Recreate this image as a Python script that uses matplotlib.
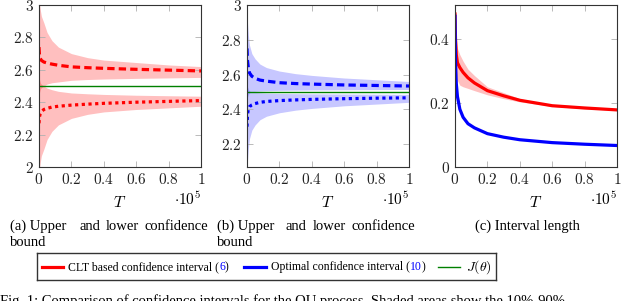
import numpy as np
import matplotlib
matplotlib.use("Agg")
import matplotlib.pyplot as plt
from matplotlib.ticker import FuncFormatter, MultipleLocator

plt.rcParams['mathtext.fontset'] = 'cm'
plt.rcParams['font.family'] = ['Liberation Serif', 'DejaVu Serif']

# time grid (T)
T = [0, 300, 800, 1500, 3000, 5000, 8000, 12000, 20000, 30000, 40000, 60000, 80000, 100000]

# (a) CLT based bounds and their shaded spread
a_upper = [2.74, 2.69, 2.67, 2.658, 2.648, 2.642, 2.635, 2.628, 2.618, 2.613, 2.609, 2.603, 2.598, 2.593]
a_lower = [2.27, 2.31, 2.33, 2.342, 2.355, 2.362, 2.37, 2.375, 2.382, 2.388, 2.393, 2.40, 2.405, 2.41]
a_up_hi = [3.05, 3.01, 2.97, 2.93, 2.89, 2.83, 2.78, 2.74, 2.70, 2.675, 2.66, 2.645, 2.63, 2.62]
a_up_lo = [2.44, 2.46, 2.48, 2.49, 2.50, 2.512, 2.52, 2.525, 2.535, 2.54, 2.543, 2.547, 2.55, 2.553]
a_lo_hi = [2.56, 2.54, 2.52, 2.51, 2.50, 2.487, 2.477, 2.467, 2.457, 2.452, 2.448, 2.443, 2.44, 2.437]
a_lo_lo = [1.95, 1.99, 2.03, 2.07, 2.11, 2.17, 2.22, 2.26, 2.30, 2.325, 2.34, 2.355, 2.365, 2.375]

# (b) optimal bounds and their shaded spread
b_upper = [2.75, 2.68, 2.64, 2.61, 2.59, 2.578, 2.568, 2.562, 2.553, 2.548, 2.545, 2.54, 2.537, 2.534]
b_lower = [2.30, 2.37, 2.40, 2.415, 2.425, 2.433, 2.44, 2.445, 2.45, 2.454, 2.457, 2.461, 2.464, 2.466]
b_up_hi = [3.05, 2.90, 2.83, 2.77, 2.72, 2.69, 2.66, 2.64, 2.62, 2.605, 2.595, 2.58, 2.57, 2.56]
b_up_lo = [2.45, 2.47, 2.485, 2.495, 2.50, 2.503, 2.505, 2.507, 2.509, 2.51, 2.511, 2.512, 2.513, 2.514]
b_lo_hi = [2.55, 2.53, 2.515, 2.505, 2.50, 2.497, 2.495, 2.493, 2.491, 2.49, 2.489, 2.488, 2.487, 2.486]
b_lo_lo = [1.95, 2.10, 2.17, 2.23, 2.28, 2.31, 2.34, 2.36, 2.38, 2.395, 2.405, 2.42, 2.43, 2.44]

# (c) interval length
c_clt = [0.477, 0.40, 0.35, 0.325, 0.31, 0.295, 0.278, 0.262, 0.238, 0.222, 0.208, 0.191, 0.184, 0.178]
c_clt_hi = [0.48, 0.45, 0.40, 0.37, 0.35, 0.33, 0.305, 0.285, 0.25, 0.232, 0.213, 0.193, 0.185, 0.179]
c_clt_lo = [0.47, 0.33, 0.29, 0.27, 0.255, 0.25, 0.245, 0.238, 0.225, 0.213, 0.203, 0.189, 0.181, 0.177]
c_opt = [0.47, 0.33, 0.26, 0.22, 0.18, 0.155, 0.135, 0.122, 0.104, 0.093, 0.085, 0.076, 0.071, 0.067]

J_theta = 2.5

RED = (1, 0, 0)
BLUE = (0, 0, 1)
GREEN = (0, 0.5, 0)
DASH = (0, (2.3, 1.3))
DOT = (0, (1.0, 1.1))

fig = plt.figure(figsize=(6.4, 3.01), dpi=100)
W, H = 640, 301


def px_axes(left, top, right, bottom):
    return fig.add_axes([left / W, 1 - bottom / H, (right - left) / W, (bottom - top) / H])


def style(ax, ylim, yticks):
    ax.set_xlim(0, 100000)
    ax.set_ylim(*ylim)
    ax.xaxis.set_major_locator(MultipleLocator(20000))
    ax.set_yticks(yticks)
    ax.xaxis.set_major_formatter(FuncFormatter(lambda v, p: f"${v / 1e5:g}$"))
    ax.yaxis.set_major_formatter(FuncFormatter(lambda v, p: f"${v:g}$"))
    ax.tick_params(direction='in', length=4, width=0.6, color='#b0b0b0',
                   top=True, right=True, labelsize=11, pad=3.5, labelcolor='#222222')
    for s in ax.spines.values():
        s.set_color('#333333')
        s.set_linewidth(0.8)
    ax.set_xlabel('$T$', fontsize=11.5, labelpad=6)
    ax.text(1.0, -0.2, r'$\cdot 10^5$', transform=ax.transAxes, ha='right',
            va='center', fontsize=11)


ax1 = px_axes(39, 5, 201, 167)
ax1.fill_between(T, a_up_lo, a_up_hi, color=RED, alpha=0.25, lw=0)
ax1.fill_between(T, a_lo_lo, a_lo_hi, color=RED, alpha=0.25, lw=0)
ax1.axhline(J_theta, color=GREEN, lw=1.0)
ax1.plot(T, a_upper, color=RED, lw=2.3, ls=DASH, dash_capstyle='butt')
ax1.plot(T, a_lower, color=RED, lw=2.3, ls=DOT, dash_capstyle='butt')
style(ax1, (2, 3), [2, 2.2, 2.4, 2.6, 2.8, 3])

ax2 = px_axes(247, 5, 409, 167)
ax2.fill_between(T, b_up_lo, b_up_hi, color=BLUE, alpha=0.22, lw=0)
ax2.fill_between(T, b_lo_lo, b_lo_hi, color=BLUE, alpha=0.22, lw=0)
ax2.axhline(J_theta, color=GREEN, lw=1.0)
ax2.plot(T, b_upper, color=BLUE, lw=2.3, ls=DASH, dash_capstyle='butt')
ax2.plot(T, b_lower, color=BLUE, lw=2.3, ls=DOT, dash_capstyle='butt')
style(ax2, (2.068, 3), [2.2, 2.4, 2.6, 2.8, 3])

ax3 = px_axes(455, 5, 617, 167)
ax3.fill_between(T, c_clt_lo, c_clt_hi, color=RED, alpha=0.25, lw=0)
ax3.plot(T, c_clt, color=RED, lw=2.3)
ax3.plot(T, c_opt, color=BLUE, lw=2.3)
style(ax3, (0, 0.505), [0, 0.2, 0.4])

# sub-captions (justified first line)
CAP = 10.5
for tag, dx in [('(a)', 0), ('(b)', 207)]:
    fig.text((10 + dx) / W, 1 - 226 / H, tag + ' Upper', fontsize=CAP, va='center')
    fig.text((79 + dx) / W, 1 - 226 / H, 'and', fontsize=CAP, va='center')
    fig.text((106 + dx) / W, 1 - 226 / H, 'lower', fontsize=CAP, va='center')
    fig.text((208 + dx) / W, 1 - 226 / H, 'confidence', fontsize=CAP, va='center', ha='right')
    fig.text((10 + dx) / W, 1 - 243 / H, 'bound', fontsize=CAP, va='center')
fig.text(527 / W, 1 - 226 / H, '(c) Interval length', fontsize=CAP, va='center', ha='center')

# legend box
lax = px_axes(37, 253, 496, 280)
lax.set_xlim(37, 496)
lax.set_ylim(280, 253)
lax.set_xticks([])
lax.set_yticks([])
for s in lax.spines.values():
    s.set_color('#333333')
    s.set_linewidth(1.0)
ymid = 267
LEG = 8.5
lax.plot([42, 63], [ymid, ymid], color=RED, lw=2.3)
lax.plot([244, 266], [ymid, ymid], color=BLUE, lw=2.3)
lax.plot([438, 460], [ymid, ymid], color=GREEN, lw=1.0)
fig.canvas.draw()
r = fig.canvas.get_renderer()
for x0, label, ref in [(68, 'CLT based confidence interval (', '6'),
                       (271, 'Optimal confidence interval (', '10')]:
    t = lax.text(x0, ymid, label, fontsize=LEG, va='center')
    bb = t.get_window_extent(r).transformed(lax.transData.inverted())
    t2 = lax.text(bb.x1, ymid, ref, fontsize=LEG, va='center', color=BLUE)
    bb2 = t2.get_window_extent(r).transformed(lax.transData.inverted())
    lax.text(bb2.x1, ymid, ')', fontsize=LEG, va='center')
lax.text(466, ymid, r'$J(\theta)$', fontsize=10, va='center')

# figure caption (cut off at the bottom edge, as in the source page)
fig.text(0.0, -0.012, 'Fig. 1: Comparison of confidence intervals for the OU process. '
         'Shaded areas show the 10%-90%', fontsize=10.5, va='baseline')

fig.savefig('out.png', dpi=100)
